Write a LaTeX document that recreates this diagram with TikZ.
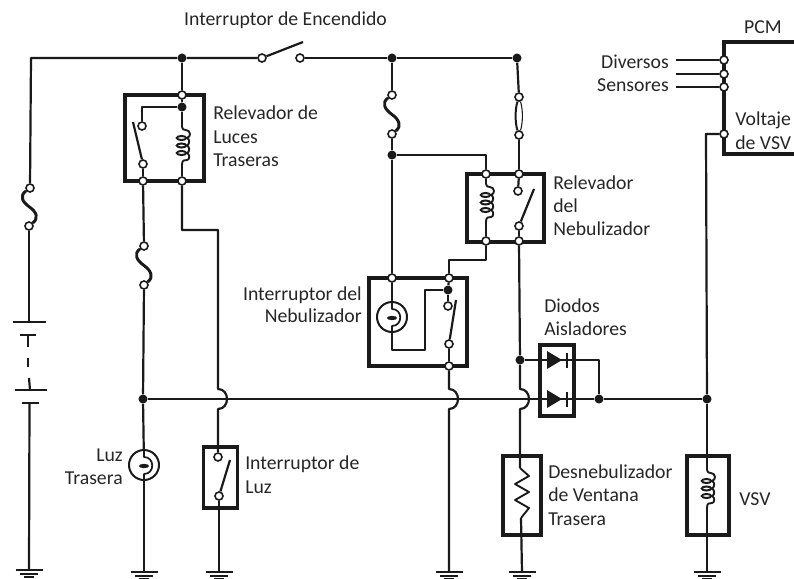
\documentclass[tikz,border=0pt]{standalone}
\usepackage{fontspec}
\usetikzlibrary{calc}
\setmainfont{Carlito}
\definecolor{ink}{HTML}{1A1A1A}
\definecolor{txt}{HTML}{262626}
\tikzset{
  x=0.75pt,y=-0.75pt,
  wire/.style={draw=ink,line width=1.65pt,line join=round},
  thin wire/.style={draw=ink,line width=1.2pt},
  term/.style={circle,draw=ink,fill=white,line width=1.2pt,inner sep=0pt,minimum size=6pt},
  junc/.style={circle,fill=ink,inner sep=0pt,minimum size=6.8pt},
  panel/.style 2 args={rectangle,draw=ink,line width=2.5pt,inner sep=0pt,minimum width=#1*0.75pt,minimum height=#2*0.75pt},
  lamp/.style={circle,draw=ink,line width=1.5pt,inner sep=0pt,minimum size=22.5pt},
  lab/.style={text=txt,font=\fontsize{14.8}{17}\selectfont,inner sep=0pt},
  labl/.style={lab,anchor=west},
  labr/.style={lab,anchor=east},
  pics/ground/.style={code={
    \draw[wire,line width=2.1pt] (-13.5,0) -- (13.5,0);
    \draw[wire,line width=1.3pt] (-9,4) -- (9,4);
    \draw[wire,line width=1.3pt] (-5,7) -- (5,7);
  }},
  pics/coil/.style={code={
    \draw[wire,line width=1.4pt] (0,0) .. controls (0,5) and (8,1) .. (8,7)
      .. controls (8,9) and (7,10) .. (5,11) .. controls (8,12) and (8,17) .. (5,18.5)
      .. controls (8,20) and (8,25) .. (5,26) .. controls (8,27) and (8,33) .. (5,33)
      .. controls (2,33) and (0,33) .. (0,38);
    \foreach \oy in {11,18.5,26}
      \draw[ink,line width=1.5pt] (-0.5,\oy) ellipse [x radius=3.6pt,y radius=1.5pt];
  }},
  pics/filament/.style={code={
    \draw[wire,line width=1.3pt] (0,-15) -- (0,-8) .. controls (11,-8) and (11,9) .. (0,9) -- (0,15);
    \fill[ink] (0,1) ellipse [x radius=3.8pt,y radius=1.6pt];
  }},
  pics/diode/.style={code={
    \fill[ink] (0,-9) -- (15,0) -- (0,9) -- cycle;
    \draw[ink,line width=1pt] (20,-7) -- (20,8);
  }},
}
\begin{document}
\begin{tikzpicture}
\useasboundingbox (0,0) rectangle (794,579);

% --- boxes
\node[panel={79}{86}] (relayA) at (164.5,138) {};
\node[panel={77}{68}] (relayB) at (505.5,208) {};
\node[panel={98}{88}] (panelSw) at (418,322) {};
\node[panel={34}{71}] (diodeBox) at (557,380.5) {};
\node[panel={34}{61}] (lightSw) at (220.5,477.5) {};
\node[panel={38}{79}] (defog) at (522,495.5) {};
\node[panel={42}{79}] (vsvBox) at (708,495.5) {};
\coordinate (pcmTR) at (794,42);
\coordinate (pcmTL) at (724,42);
\coordinate (pcmBL) at (724,154);
\coordinate (pcmBR) at (794,154);
\draw[draw=ink,line width=2.5pt,line join=miter] (pcmTR) -- (pcmTL) -- (pcmBL) -- (pcmBR);

% --- terminals and junctions
\node[junc] (jA) at (182,58) {};
\node[junc] (jB) at (392,58) {};
\node[junc] (jC) at (517,58) {};
\coordinate (topL) at (31,58);
\node[term] (swL) at (262,58) {};
\node[term] (swR) at (300,58) {};
\coordinate (swTip) at (303,42);

\node[term] (fuse1t) at (30,188) {};
\node[term] (fuse1b) at (29,226) {};

\node[term] (rAtop) at (182,95) {};
\node[junc] (rAj) at (182,107) {};
\coordinate (rAc) at (182,127);
\coordinate (rAd) at (182,165);
\coordinate (rAk) at (142,107);
\node[term] (rAs1) at (142,126) {};
\node[term] (rAs2) at (143,164) {};
\coordinate (rAtip) at (133,122);
\node[term] (rAbl) at (143,181) {};
\node[term] (rAbr) at (182,181) {};

\node[term] (fuse2t) at (144,246) {};
\node[term] (fuse2b) at (144,285) {};
\node[junc] (busL) at (143,399) {};

\node[lamp] (lampA) at (144,465) {};
\node[term] (lsw1) at (218,457) {};
\node[term] (lsw2) at (219,496) {};
\coordinate (lswTip) at (230,460);

\node[term] (fuse3t) at (392,95) {};
\node[term] (fuse3b) at (392,134) {};
\node[junc] (jD) at (392,155) {};
\node[term] (rBtl) at (486,174) {};
\node[term] (rBtr) at (519,174) {};
\node[term] (rBbl) at (486,241) {};
\node[term] (rBbr) at (519,241) {};
\node[term] (rBs1) at (518,191) {};
\node[term] (rBs2) at (519,226) {};
\coordinate (rBtip) at (534,189);
\coordinate (rBc) at (486,184);
\coordinate (rBd) at (486,222);
\node[term] (fuse4t) at (519,97) {};
\node[term] (fuse4b) at (519,135) {};

\node[term] (pTl) at (392,278) {};
\node[term] (pTr) at (449,278) {};
\node[term] (pBr) at (449,366) {};
\node[junc] (pJ) at (448,290) {};
\node[term] (pS1) at (448,306) {};
\node[term] (pS2) at (449,344) {};
\coordinate (pTip) at (456,300);
\node[lamp] (lampB) at (392,317) {};

\node[junc] (jE) at (520,360) {};
\node[junc] (jF) at (599,399) {};
\node[junc] (jG) at (707,399) {};

\node[term] (pcm1) at (724,60) {};
\node[term] (pcm2) at (724,74) {};
\node[term] (pcm3) at (724,87) {};
\node[term] (pcm4) at (724,134) {};
\coordinate (s1) at (676,60);
\coordinate (s2) at (676,74);
\coordinate (s3) at (676,87);

% --- grounds
\coordinate (g0) at (29,570);
\coordinate (g1) at (144,572);
\coordinate (g2) at (219,572);
\coordinate (g3) at (449,572);
\coordinate (g4) at (522,572);
\coordinate (g5) at (707,572);
\foreach \gnd in {g0,g1,g2,g3,g4,g5} \pic at (\gnd) {ground};

% --- top wire
\draw[wire] (fuse1t) -- (topL) -- (jA) -- (swL);
\draw[wire] (swL) -- (swTip);
\draw[wire] (swR) -- (jB) -- (jC);

% --- battery branch
\coordinate (batA) at (29,322);
\coordinate (batB1) at (28,335);
\coordinate (batB2) at (28,347);
\coordinate (batC1) at (28,358);
\coordinate (batC2) at (28,367);
\coordinate (batD1) at (29,378);
\coordinate (batD2) at (30,390);
\coordinate (batE) at (29.5,403);
\draw[wire] (fuse1b) -- (batA);
\draw[wire] (13,322) -- (46,322);
\draw[wire] (20,335) -- (36,335);
\draw[wire] (batB1) -- (batB2);
\draw[wire] (batC1) -- (batC2);
\draw[wire] (batD1) -- (batD2);
\draw[wire] (15,390) -- (47,390);
\draw[wire] (22,403) -- (39,403);
\draw[wire] (batE) -- (g0);

% --- fuses (S shape)
\foreach \ft/\fb in {fuse1t/fuse1b,fuse2t/fuse2b,fuse3t/fuse3b}
  \draw[wire,line width=2.2pt] (\ft) .. controls +(-11,8) and +(-7,-5) .. ($(\ft)!0.5!(\fb)$) .. controls +(7,5) and +(10,-8) .. (\fb);
\draw[wire,line width=1.5pt] (fuse4t) .. controls +(-4,12) and +(-4,-12) .. (fuse4b);
\draw[thin wire,line width=0.8pt] (fuse4t) .. controls +(4,12) and +(4,-12) .. (fuse4b);

% --- relay A
\draw[wire] (jA) -- (rAtop);
\draw[wire] (rAtop) -- (rAj);
\draw[wire] (rAj) -- (rAk) -- (rAs1);
\draw[wire] (rAj) -- (rAc);
\pic at (rAc) {coil};
\draw[wire] (rAd) -- (rAbr);
\draw[wire] (rAs2) -- (rAtip);
\draw[wire] (rAs2) -- (rAbl);
\draw[wire] (rAbl) -- (fuse2t);
\draw[wire] (fuse2b) -- (busL);
\draw[wire] (busL) -- (lampA);
\pic at (lampA) {filament};
\draw[wire] (lampA) -- (g1);

% --- light switch wire
\coordinate (aw1) at (182,230);
\coordinate (aw2) at (218,230);
\coordinate (bA1) at (218,389);
\coordinate (bA2) at (218,409);
\draw[wire] (rAbr) -- (aw1) -- (aw2) -- (bA1) .. controls +(12,0) and +(12,0) .. (bA2) -- (lsw1);
\draw[wire] (lsw2) -- (lswTip);
\draw[wire] (lsw2) -- (g2);

% --- main bus
\draw[wire] (busL) -- (jF) -- (jG);

% --- nebuliser relay
\draw[wire] (jB) -- (fuse3t);
\draw[wire] (fuse3b) -- (jD);
\coordinate (dw) at (486,155);
\draw[wire] (jD) -- (dw) -- (rBtl);
\draw[wire] (jD) -- (pTl);
\draw[wire] (jC) -- (fuse4t);
\draw[wire] (fuse4b) -- (rBtr);
\draw[wire] (rBtr) -- (rBs1);
\draw[wire] (rBs2) -- (rBtip);
\draw[wire] (rBs2) -- (rBbr);
\draw[wire] (rBtl) -- (rBc);
\pic at (rBc) {coil};
\draw[wire] (rBd) -- (rBbl);
\coordinate (ew1) at (486,260);
\coordinate (ew2) at (449,260);
\draw[wire] (rBbl) -- (ew1) -- (ew2) -- (pTr);

% --- panel switch
\draw[wire] (pTl) -- (lampB);
\pic at (lampB) {filament};
\coordinate (pw1) at (392,350);
\coordinate (pw2) at (425,350);
\coordinate (pw3) at (425,290);
\draw[wire] (lampB) -- (pw1) -- (pw2) -- (pw3) -- (pJ);
\draw[wire] (pTr) -- (pJ);
\draw[wire] (pJ) -- (pS1);
\draw[wire] (pS2) -- (pTip);
\draw[wire] (pS2) -- (pBr);
\coordinate (bB1) at (449,389);
\coordinate (bB2) at (449,409);
\draw[wire] (pBr) -- (bB1) .. controls +(12,0) and +(12,0) .. (bB2) -- (g3);

% --- rear defogger
\coordinate (bC1) at (520,389);
\coordinate (bC2) at (520,409);
\coordinate (rz0) at (520,468);
\coordinate (rz9) at (521,518);
\draw[wire] (rBbr) -- (jE) -- (bC1) .. controls +(12,0) and +(12,0) .. (bC2) -- (rz0);
\draw[wire,line width=1.4pt] (rz0) -- (529,476) -- (515,484) -- (529,492) -- (515,500) -- (529,508) -- (rz9);
\draw[wire] (rz9) -- (g4);

% --- diodes
\coordinate (dU) at (599,360);
\draw[wire] (jE) -- (dU) -- (jF);
\pic at (547,360) {diode};
\pic at (547,399) {diode};

% --- PCM and VSV
\draw[thin wire] (s1) -- (pcm1);
\draw[thin wire] (s2) -- (pcm2);
\draw[thin wire] (s3) -- (pcm3);
\coordinate (vw) at (706,134);
\coordinate (vc) at (707,470);
\coordinate (vd) at (707,508);
\draw[wire] (pcm4) -- (vw) -- (jG);
\draw[wire] (jG) -- (vc);
\pic at (vc) {coil};
\draw[wire] (vd) -- (g5);

% --- labels
\node[lab] (t1) at (285.5,20) {Interruptor de Encendido};
\node[labl] (t2) at (213,113) {Relevador de};
\node[labl] (t3) at (213,137) {Luces};
\node[labl] (t4) at (213,160) {Traseras};
\node[labl] (t5) at (553,183) {Relevador};
\node[labl] (t6) at (553,206) {del};
\node[labl] (t7) at (553,229) {Nebulizador};
\node[labr] (t8) at (362,295) {Interruptor del};
\node[labr] (t9) at (362,316) {Nebulizador};
\node[labl] (t10) at (544,306) {Diodos};
\node[labl] (t11) at (544,329) {Aisladores};
\node[labr] (t12) at (123,455) {Luz};
\node[labr] (t13) at (123,478) {Trasera};
\node[labl] (t14) at (245,464) {Interruptor de};
\node[labl] (t15) at (245,487) {Luz};
\node[labl] (t16) at (548,472) {Desnebulizador};
\node[labl] (t17) at (548,495) {de Ventana};
\node[labl] (t18) at (548,519) {Trasera};
\node[labl] (t19) at (739,499) {VSV};
\node[lab] (t20) at (763,27) {PCM};
\node[labr] (t21) at (669,62) {Diversos};
\node[labr] (t22) at (669,85) {Sensores};
\node[labl] (t23) at (735,120) {Voltaje};
\node[labl] (t24) at (735,143) {de VSV};
\end{tikzpicture}
\end{document}
